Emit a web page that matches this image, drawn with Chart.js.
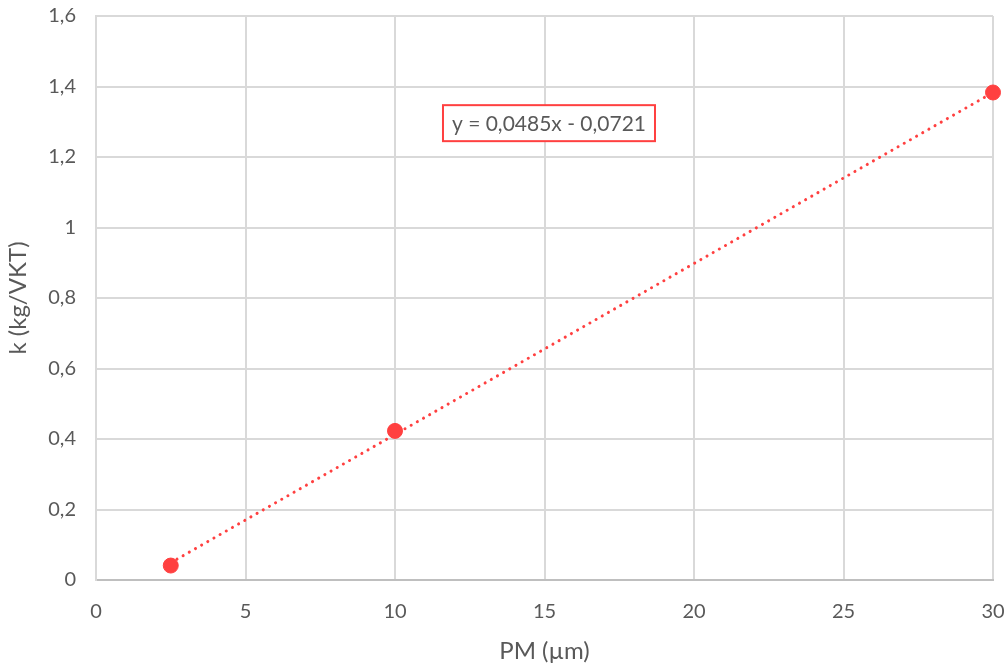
<!DOCTYPE html>
<html>
<head>
<meta charset="utf-8">
<script src="https://cdn.jsdelivr.net/npm/chart.js@4"></script>
<style>
html,body{margin:0;padding:0;background:#fff;}
#wrap{width:1008px;height:666px;position:relative;}
</style>
</head>
<body>
<div id="wrap"><canvas id="c" width="1008" height="666"></canvas></div>
<script>
// Data
const pmSizes = [2.5, 10, 30];
const kValues = [0.041, 0.423, 1.383];
// Trendline endpoints (as drawn in the picture)
const trendX = [2.5, 30];
const trendY = [0.049, 1.383];
const equationLabel = 'y = 0,0485x - 0,0721';
const xTitle = 'PM (µm)';
const yTitle = 'k (kg/VKT)';

const FONT = 'Lato, "Open Sans", sans-serif';
const TXT = '#595959';
const RED = '#FF4040';

const fmt = v => String(Math.round(v * 10) / 10).replace('.', ',');

const eqPlugin = {
  id: 'eqBox',
  afterDatasetsDraw(chart) {
    const ctx = chart.ctx;
    const xs = chart.scales.x, ys = chart.scales.y;
    const cx = xs.getPixelForValue(15.15);
    const cy = ys.getPixelForValue(1.296);
    ctx.save();
    ctx.font = '21px ' + FONT;
    const w = 212, h = 36;
    ctx.fillStyle = '#fff';
    ctx.fillRect(cx - w / 2, cy - h / 2, w, h);
    ctx.strokeStyle = RED;
    ctx.lineWidth = 2;
    ctx.strokeRect(cx - w / 2, cy - h / 2, w, h);
    ctx.fillStyle = TXT;
    ctx.textAlign = 'center';
    ctx.textBaseline = 'middle';
    ctx.fillText(equationLabel, cx, cy + 1);
    ctx.restore();
  }
};

new Chart(document.getElementById('c'), {
  type: 'scatter',
  data: {
    datasets: [
      {
        label: 'trend',
        data: trendX.map((x, i) => ({ x, y: trendY[i] })),
        showLine: true,
        borderColor: RED,
        borderWidth: 3,
        borderDash: [0.1, 7],
        borderCapStyle: 'round',
        pointRadius: 0,
        fill: false,
        clip: false,
        order: 2
      },
      {
        label: 'k',
        data: pmSizes.map((x, i) => ({ x, y: kValues[i] })),
        backgroundColor: RED,
        borderColor: RED,
        pointRadius: 7.5,
        pointHoverRadius: 7.5,
        clip: false,
        order: 1
      }
    ]
  },
  options: {
    responsive: false,
    animation: false,
    events: [],
    layout: { padding: { top: 16, right: 15, left: 0, bottom: 0 } },
    plugins: { legend: { display: false }, tooltip: { enabled: false } },
    scales: {
      x: {
        type: 'linear',
        min: 0, max: 30,
        ticks: { stepSize: 5, color: TXT, font: { family: FONT, size: 20 }, padding: 20 },
        grid: { color: '#D9D9D9', lineWidth: 2, drawTicks: false },
        border: { color: '#BFBFBF', width: 2 },
        title: { display: true, text: xTitle, color: TXT, font: { family: FONT, size: 24 }, padding: { top: 5, bottom: 0 } },
        afterFit(s) { s.height = 86; s.paddingRight = 0; s.paddingLeft = 0; }
      },
      y: {
        type: 'linear',
        min: 0, max: 1.6,
        ticks: { stepSize: 0.2, color: TXT, font: { family: FONT, size: 20 }, padding: 20, callback: v => fmt(v) },
        grid: { color: '#D9D9D9', lineWidth: 2, drawTicks: false },
        border: { color: '#D9D9D9', width: 2 },
        title: { display: true, text: yTitle, color: TXT, font: { family: FONT, size: 24 }, padding: { top: 4, bottom: 0 } },
        afterFit(s) { s.width = 96; s.paddingTop = 0; s.paddingBottom = 0; }
      }
    }
  },
  plugins: [eqPlugin]
});
</script>
</body>
</html>
